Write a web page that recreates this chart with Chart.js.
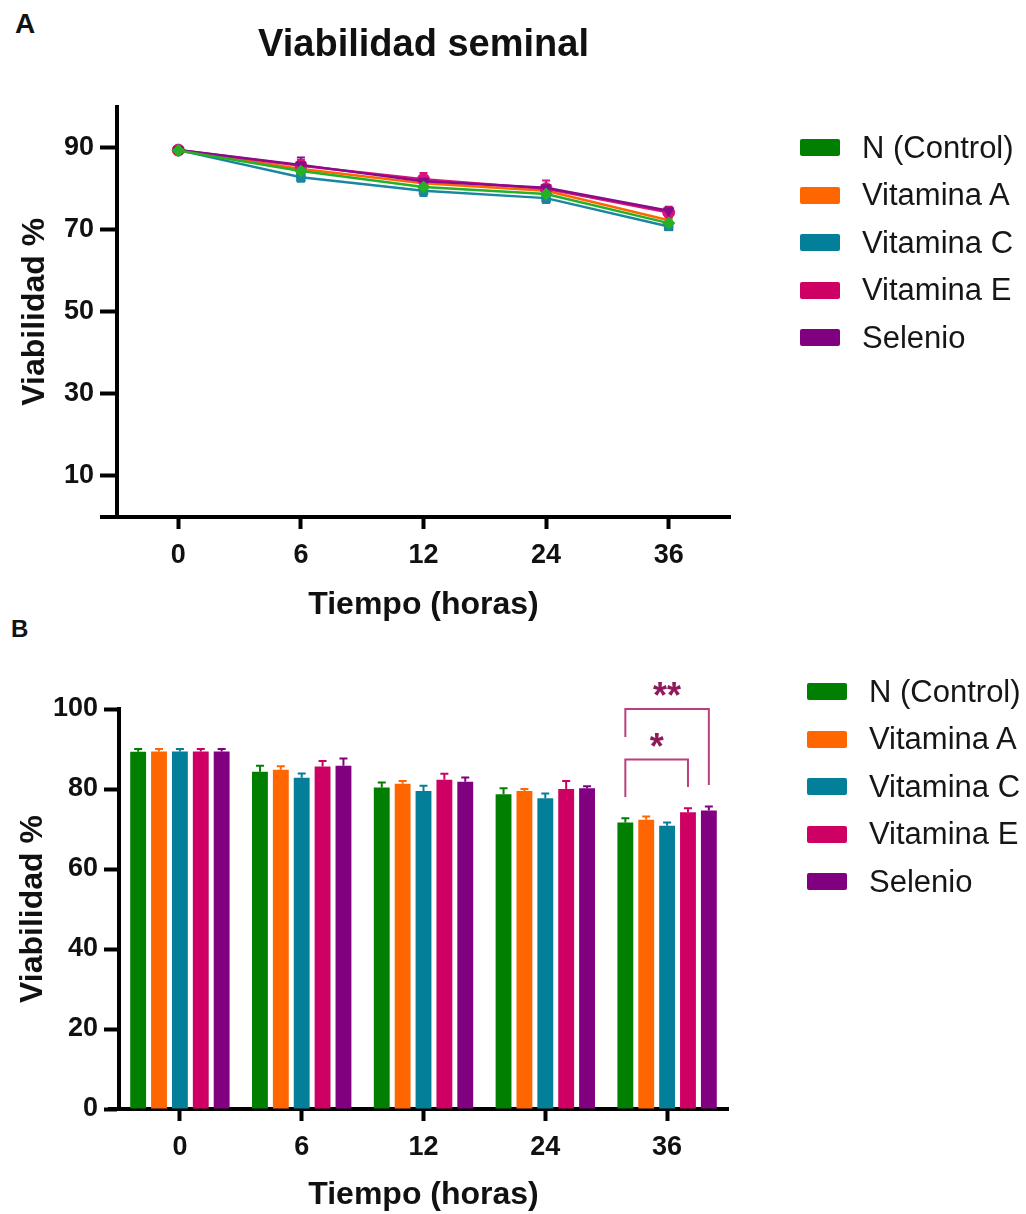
<!DOCTYPE html>
<html lang="es">
<head>
<meta charset="UTF-8">
<title>Viabilidad seminal</title>
<script src="https://cdn.jsdelivr.net/npm/chart.js"></script>
<style>
    body { margin: 0; background: #fff; font-family: "Liberation Sans", Arial, sans-serif; }
    #page { position: relative; width: 1026px; height: 1214px; overflow: hidden; }
    .panel-label { position: absolute; font-weight: bold; color: #111; line-height: 1; }
    #chartA { position: absolute; left: 0; top: 0; }
    #chartB { position: absolute; left: 0; top: 620px; }
    .legend { position: absolute; }
    .legend-row { display: flex; align-items: center; height: 47.5px; font-size: 31px; color: #161616; }
    .legend-box { width: 40px; height: 17px; border-radius: 2px; margin-right: 22px; }
</style>
</head>
<body>
<div id="page">
    <div class="panel-label" style="left:15px;top:10px;font-size:28px">A</div>
    <div class="panel-label" style="left:11px;top:617px;font-size:24px">B</div>
    <canvas id="chartA" width="1026" height="624"></canvas>
    <canvas id="chartB" width="1026" height="594"></canvas>
    <div class="legend" id="legendA" style="left:800px;top:124px"></div>
    <div class="legend" id="legendB" style="left:807px;top:668px"></div>
</div>

<script>
    // datos
    var tiempos = ['0', '6', '12', '24', '36'];
    var series = ['N (Control)', 'Vitamina A', 'Vitamina C', 'Vitamina E', 'Selenio'];

    var control = [89.3, 84.3, 80.4, 78.7, 71.6];
    var vitaminaA = [89.4, 84.8, 81.3, 79.5, 72.3];
    var vitaminaC = [89.4, 82.8, 79.5, 77.7, 70.8];
    var vitaminaE = [89.4, 85.6, 82.3, 80.0, 74.2];
    var selenio = [89.4, 85.8, 81.8, 80.2, 74.6];

    var sdControl = [0.7, 1.5, 1.2, 1.5, 1.1];
    var sdVitaminaA = [0.6, 0.9, 0.7, 0.5, 0.8];
    var sdVitaminaC = [0.6, 1.1, 1.3, 1.2, 0.8];
    var sdVitaminaE = [0.6, 1.4, 1.5, 2.0, 1.0];
    var sdSelenio = [0.6, 1.8, 1.1, 0.5, 1.0];

    var yTicksA = [10, 30, 50, 70, 90];
    var yTicksB = [0, 20, 40, 60, 80, 100];

    var medias = [control, vitaminaA, vitaminaC, vitaminaE, selenio];
    var sds = [sdControl, sdVitaminaA, sdVitaminaC, sdVitaminaE, sdSelenio];

    var barColors = ['#007f00', '#ff6600', '#037f99', '#cf0063', '#800080'];
    var lineColors = ['#25b025', '#ff6600', '#1a86a0', '#d8137a', '#8a0a8a'];
    var pointStyles = ['rectRot', 'triangle', 'rect', 'circle', 'triangle'];
    var pointRotations = [0, 0, 0, 0, 180];
    var lineOrder = [0, 4, 3, 2, 1]; // verde encima, luego selenio

    var FONT = '"Liberation Sans", Arial, sans-serif';

    // barras de error (media + DE)
    var errorBarPlugin = {
        id: 'errorBars',
        beforeDatasetsDraw: function (chart, args, opts) {
            if (opts.before) drawErrors(chart, opts);
        },
        afterDatasetsDraw: function (chart, args, opts) {
            if (!opts.before) drawErrors(chart, opts);
        }
    };

    function drawErrors(chart, opts) {
        var ctx = chart.ctx;
        var y = chart.scales.y;
        chart.data.datasets.forEach(function (ds, i) {
            var meta = chart.getDatasetMeta(i);
            meta.data.forEach(function (el, k) {
                var v = ds.data[k];
                var e = ds.sd[k];
                var top = y.getPixelForValue(v + e);
                var bottom = opts.both ? y.getPixelForValue(v - e) : el.y;
                ctx.save();
                ctx.strokeStyle = ds.borderColor;
                ctx.lineWidth = 2;
                ctx.beginPath();
                ctx.moveTo(el.x, bottom);
                ctx.lineTo(el.x, top);
                ctx.moveTo(el.x - opts.cap, top);
                ctx.lineTo(el.x + opts.cap, top);
                if (opts.both) {
                    ctx.moveTo(el.x - opts.cap, bottom);
                    ctx.lineTo(el.x + opts.cap, bottom);
                }
                ctx.stroke();
                ctx.restore();
            });
        });
    }

    // el eje x sobresale un poco a la izquierda del eje y
    var axisStubPlugin = {
        id: 'axisStub',
        afterDraw: function (chart, args, opts) {
            var ctx = chart.ctx;
            var a = chart.chartArea;
            ctx.save();
            ctx.strokeStyle = '#000';
            ctx.lineWidth = 4;
            ctx.beginPath();
            ctx.moveTo(a.left - opts.ext, a.bottom);
            ctx.lineTo(a.left, a.bottom);
            ctx.stroke();
            ctx.restore();
        }
    };

    // corchetes de significancia
    var bracketPlugin = {
        id: 'brackets',
        afterDraw: function (chart, args, opts) {
            var ctx = chart.ctx;
            var y = chart.scales.y;
            opts.items.forEach(function (b) {
                var x1 = chart.getDatasetMeta(b.from).data[b.group].x;
                var x2 = chart.getDatasetMeta(b.to).data[b.group].x;
                var yt = y.getPixelForValue(b.top);
                ctx.save();
                ctx.strokeStyle = '#bb3f7c';
                ctx.lineWidth = 2;
                ctx.beginPath();
                ctx.moveTo(x1, y.getPixelForValue(b.leftEnd));
                ctx.lineTo(x1, yt);
                ctx.lineTo(x2, yt);
                ctx.lineTo(x2, y.getPixelForValue(b.rightEnd));
                ctx.stroke();
                ctx.fillStyle = '#8e1a5c';
                ctx.font = 'bold 36px ' + FONT;
                ctx.textAlign = 'center';
                ctx.textBaseline = 'alphabetic';
                ctx.fillText(b.label, (x1 + x2) / 2, y.getPixelForValue(b.labelAt));
                ctx.restore();
            });
        }
    };

    function xAxis(height) {
        return {
            type: 'category',
            offset: true,
            grid: { display: true, offset: false, drawOnChartArea: false, drawTicks: true, tickLength: 12, tickWidth: 4, tickColor: '#000' },
            border: { display: true, color: '#000', width: 4 },
            ticks: { color: '#111', padding: 10, font: { size: 27, weight: 'bold', family: FONT } },
            title: { display: true, text: 'Tiempo (horas)', color: '#111', padding: { top: 0, bottom: 0 }, font: { size: 32, weight: 'bold', family: FONT } },
            afterFit: function (s) { s.height = height; }
        };
    }

    function yAxis(ticksList, width, tickLen, titlePad) {
        return {
            min: 0,
            max: 100,
            afterBuildTicks: function (s) {
                s.ticks = ticksList.map(function (v) { return { value: v }; });
            },
            grid: { display: true, drawOnChartArea: false, drawTicks: true, tickLength: tickLen, tickWidth: 4, tickColor: '#000' },
            border: { display: true, color: '#000', width: 4 },
            ticks: { color: '#111', padding: 6, font: { size: 27, weight: 'bold', family: FONT } },
            title: { display: true, text: 'Viabilidad %', color: '#111', padding: { top: titlePad, bottom: 0 }, font: { size: 32, weight: 'bold', family: FONT } },
            afterFit: function (s) { s.width = width; }
        };
    }

    function buildLegend(id) {
        var box = document.getElementById(id);
        series.forEach(function (name, i) {
            var row = document.createElement('div');
            row.className = 'legend-row';
            var sw = document.createElement('span');
            sw.className = 'legend-box';
            sw.style.background = barColors[i];
            var tx = document.createElement('span');
            tx.textContent = name;
            row.appendChild(sw);
            row.appendChild(tx);
            box.appendChild(row);
        });
    }

    // Panel A: lineas
    new Chart(document.getElementById('chartA'), {
        type: 'line',
        data: {
            labels: tiempos,
            datasets: series.map(function (name, i) {
                return {
                    label: name,
                    data: medias[i],
                    sd: sds[i],
                    order: lineOrder[i],
                    borderColor: lineColors[i],
                    backgroundColor: lineColors[i],
                    borderWidth: 2.5,
                    pointStyle: pointStyles[i],
                    rotation: pointRotations[i],
                    pointRadius: 6,
                    pointHoverRadius: 6,
                    pointBorderWidth: 1
                };
            })
        },
        options: {
            responsive: false,
            animation: false,
            events: [],
            layout: { padding: { left: 0, right: 296, top: 0, bottom: 0 } },
            plugins: {
                legend: { display: false },
                tooltip: { enabled: false },
                title: {
                    display: true,
                    text: 'Viabilidad seminal',
                    fullSize: false,
                    color: '#111',
                    padding: { top: 23, bottom: 38 },
                    font: { size: 38, weight: 'bold', family: FONT }
                },
                errorBars: { both: true, cap: 4, before: true },
                axisStub: { ext: 17 }
            },
            scales: {
                x: xAxis(107),
                y: yAxis(yTicksA, 117, 17, 16)
            }
        },
        plugins: [errorBarPlugin, axisStubPlugin]
    });

    // Panel B: barras
    new Chart(document.getElementById('chartB'), {
        type: 'bar',
        data: {
            labels: tiempos,
            datasets: series.map(function (name, i) {
                return {
                    label: name,
                    data: medias[i],
                    sd: sds[i],
                    backgroundColor: barColors[i],
                    borderColor: barColors[i],
                    borderWidth: 0,
                    categoryPercentage: 0.857,
                    barPercentage: 0.76
                };
            })
        },
        options: {
            responsive: false,
            animation: false,
            events: [],
            layout: { padding: { left: 0, right: 298, top: 89, bottom: 0 } },
            plugins: {
                legend: { display: false },
                tooltip: { enabled: false },
                errorBars: { both: false, cap: 4, before: false },
                axisStub: { ext: 11 },
                brackets: {
                    items: [
                        { group: 4, from: 0, to: 4, top: 100, leftEnd: 93, rightEnd: 81, label: '**', labelAt: 100.3 },
                        { group: 4, from: 0, to: 3, top: 87.4, leftEnd: 78, rightEnd: 80.5, label: '*', labelAt: 87.5 }
                    ]
                }
            },
            scales: {
                x: xAxis(105),
                y: yAxis(yTicksB, 119, 15, 14)
            }
        },
        plugins: [errorBarPlugin, axisStubPlugin, bracketPlugin]
    });

    buildLegend('legendA');
    buildLegend('legendB');
</script>
</body>
</html>
